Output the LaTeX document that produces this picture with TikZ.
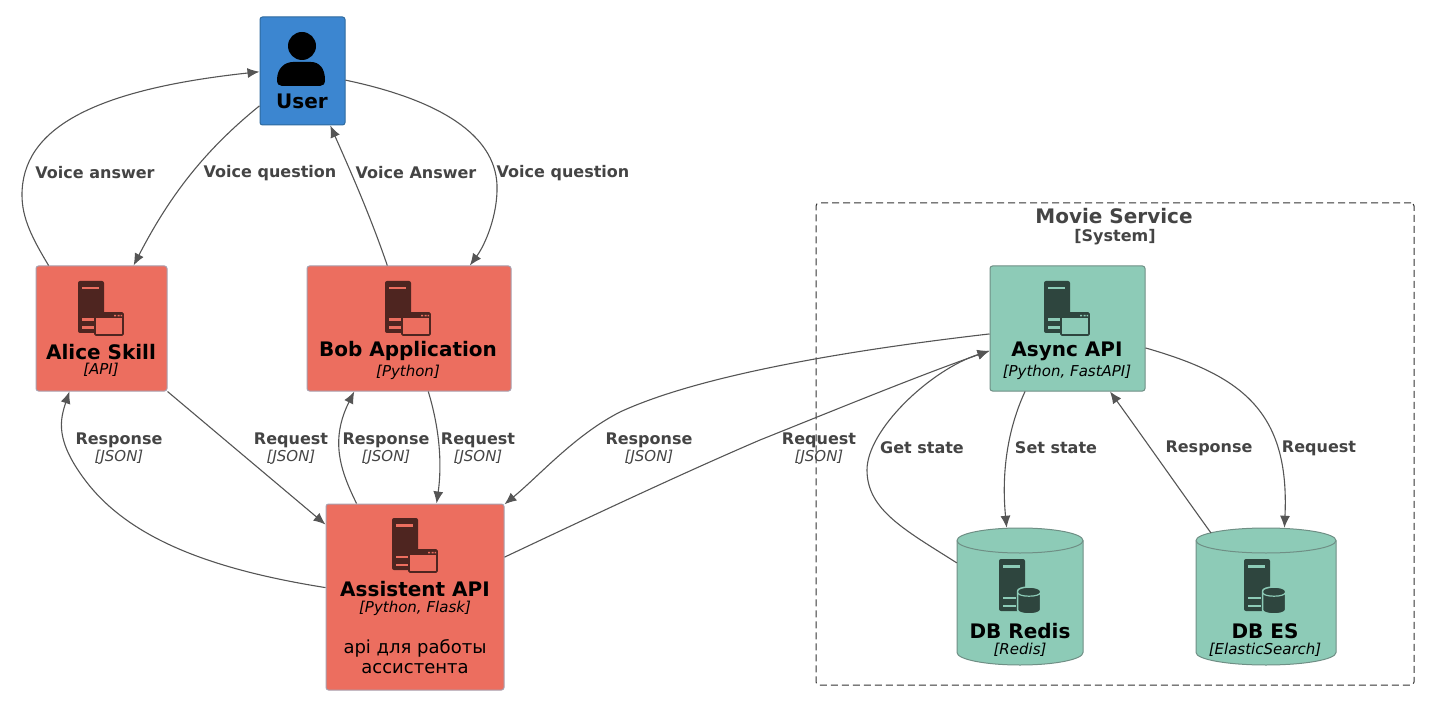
\documentclass[tikz,border=0pt]{standalone}
\usepackage{fontspec}
\setmainfont{DejaVu Sans}
\usetikzlibrary{arrows.meta}
\definecolor{userblue}{HTML}{3C86D0}
\definecolor{userline}{HTML}{2E6A9E}
\definecolor{appred}{HTML}{EC6E5F}
\definecolor{appline}{HTML}{A9A0AE}
\definecolor{appdark}{HTML}{4E2520}
\definecolor{svcgreen}{HTML}{8DCBB7}
\definecolor{svcline}{HTML}{6F8F85}
\definecolor{svcdark}{HTML}{2E453E}
\definecolor{flowgray}{HTML}{555555}
\definecolor{labelgray}{HTML}{444444}
\newcommand{\titlefont}{\fontsize{20}{24}\selectfont\bfseries\color{black}}
\newcommand{\techfont}{\fontsize{15}{17}\selectfont\mdseries\itshape}
\tikzset{
  flow/.style = {draw=flowgray, line width=1.1pt, -{Latex[length=12pt,width=10pt]}},
  appbox/.style = {draw=appline, fill=appred, rounded corners=2.5pt, line width=1pt, inner sep=0pt},
  svcbox/.style = {draw=svcline, fill=svcgreen, rounded corners=2.5pt, line width=1pt, inner sep=0pt},
  dbbox/.style = {inner sep=0pt, minimum height=137pt},
  boxtext/.style = {inner sep=0pt, align=center, text=black},
  flowlabel/.style = {inner sep=0pt, align=center, text=labelgray, font=\fontsize{16}{17}\selectfont\bfseries},
  pics/dbcan/.style = {code = {
    \draw[draw=svcline, fill=svcgreen, line width=1pt] (0,12.5) -- (0,124.5) arc[start angle=180, end angle=360, x radius=#1/2, y radius=-12.5] -- (#1,12.5)
      arc[start angle=0, end angle=180, x radius=#1/2, y radius=-12.5];
    \draw[draw=svcline, line width=1pt] (0,12.5) arc[start angle=180, end angle=360, x radius=#1/2, y radius=-12.5];
  }},
  pics/serverbody/.style 2 args = {code = {
    \fill[#1, rounded corners=2pt] (0,0) rectangle (26,52);
    \fill[#2] (4,6) rectangle (21,8.5);
    \fill[#2] (4,37.5) rectangle (17,40);
    \fill[#2] (4,45.5) rectangle (17,48);
  }},
  pics/serverwin/.style 2 args = {code = {
    \pic at (0,0) {serverbody={#1}{#2}};
    \draw[#1, fill=#2, line width=1.6pt, rounded corners=1pt] (17,32) rectangle (45,54);
    \fill[#1] (17,32) rectangle (45,37);
    \fill[#2] (36,33.8) rectangle (38,35.4) (39.5,33.8) rectangle (41.5,35.4) (42.5,33.8) rectangle (44,35.4);
  }},
  pics/serverdb/.style 2 args = {code = {
    \pic at (0,0) {serverbody={#1}{#2}};
    \draw[#2, fill=#1, line width=1.5pt] (18.5,32) -- (18.5,51) arc[start angle=180, end angle=360, x radius=11.5, y radius=-4] -- (41.5,32)
      arc[start angle=0, end angle=180, x radius=11.5, y radius=-4];
    \draw[#2, line width=1.2pt] (19,34) arc[start angle=180, end angle=360, x radius=11, y radius=-3.2];
  }}
}
\begin{document}
\begin{tikzpicture}[x=1pt, y=-1pt]
  \useasboundingbox (0,0) rectangle (1437,708);

  \node[draw=black!80, dash pattern=on 7pt off 4pt, rounded corners=3pt, line width=1pt, inner sep=0pt, minimum width=598pt, minimum height=482pt] (moviesvc) at (1115,444) {};
  \node[inner sep=0pt, align=center, text=labelgray, font=\fontsize{20}{22}\selectfont\bfseries] (moviename) at (1114,216) {Movie Service};
  \node[inner sep=0pt, text=labelgray, font=\fontsize{16}{17}\selectfont\bfseries] (movietech) at (1115,237) {[System]};

  \node[draw=userline, fill=userblue, rounded corners=2.5pt, line width=1pt, inner sep=0pt, minimum width=85pt, minimum height=108pt] (user) at (302.5,71) {};
  \node[appbox, minimum width=131pt, minimum height=125pt] (alice) at (101.5,328.5) {};
  \node[appbox, minimum width=204pt, minimum height=125pt] (bob) at (409,328.5) {};
  \node[appbox, minimum width=178pt, minimum height=186pt] (assistent) at (415,597) {};
  \node[svcbox, minimum width=155pt, minimum height=125pt] (async) at (1067.5,328.5) {};

  \pic at (957,528) {dbcan=126};
  \pic at (1196,528) {dbcan=140};
  \node[dbbox, minimum width=126pt] (redis) at (1020,596.5) {};
  \node[dbbox, minimum width=140pt] (es) at (1266,596.5) {};
  \coordinate (estop) at (1211,533);

  \fill (302,46) circle[radius=14];
  \fill (277,80) .. controls (277,68) and (285,62) .. (293,62) -- (311,62) .. controls (319,62) and (325,68) .. (325,80) .. controls (325,84) and (323,86) .. (320,86) -- (282,86) .. controls (279,86) and (277,84) .. (277,80) -- cycle;

  \pic at (78,281) {serverwin={appdark}{appred}};
  \pic at (385,281) {serverwin={appdark}{appred}};
  \pic at (392,518) {serverwin={appdark}{appred}};
  \pic at (1044,281) {serverwin={svcdark}{svcgreen}};
  \pic at (999,559) {serverdb={svcdark}{svcgreen}};
  \pic at (1244,559) {serverdb={svcdark}{svcgreen}};

  \node[boxtext] (usertxt) at (302,101) {\titlefont User};
  \node[boxtext] (alicetxt) at (101,360.5) {{\titlefont Alice Skill}\\[3.5pt]{\techfont [API]}};
  \node[boxtext] (bobtxt) at (408,360.5) {{\titlefont Bob Application}\\[3.5pt]{\techfont [Python]}};
  \node[boxtext] (assistenttxt) at (415,598.5) {{\titlefont Assistent API}\\[3.5pt]{\techfont [Python, Flask]}};
  \node[boxtext, font=\fontsize{18}{20}\selectfont] (assistentdesc) at (415,657) {api для работы\\ассистента};
  \node[boxtext] (asynctxt) at (1067,360.5) {{\titlefont Async API}\\[3.5pt]{\techfont [Python, FastAPI]}};
  \node[boxtext] (redistxt) at (1020,640) {{\titlefont DB Redis}\\[3.5pt]{\techfont [Redis]}};
  \node[boxtext] (estxt) at (1265,640) {{\titlefont DB ES}\\[3.5pt]{\techfont [ElasticSearch]}};

  \draw[flow] (alice.130.6) .. controls (32,238) and (22,218) .. (22,195) .. controls (22,130) and (90,90) .. (user.181);
  \draw[flow] (user.219.5) .. controls (205,150) and (170,195) .. (alice.63.3);
  \draw[flow] (bob.109.4) .. controls (370,215) and (350,170) .. (user.297.8);
  \draw[flow] (user.348) .. controls (440,100) and (495,135) .. (497,185) .. controls (498,215) and (485,245) .. (bob.46.6);
  \draw[flow] (assistent.174.9) .. controls (215,570) and (130,540) .. (85,480) .. controls (55,440) and (60,420) .. (alice.243.3);
  \draw[flow] (alice.south east) -- (assistent.141.4);
  \draw[flow] (assistent.122.8) .. controls (340,470) and (330,440) .. (bob.229.2);
  \draw[flow] (bob.287.7) .. controls (440,430) and (442,465) .. (assistent.77.9);
  \draw[flow] (async.184.8) .. controls (850,350) and (700,375) .. (620,412) .. controls (575,435) and (540,475) .. (assistent.46.9);
  \draw[flow] (assistent.24.7) .. controls (600,512) and (690,470) .. (760,440) .. controls (830,412) and (920,375) .. (async.196.2);
  \draw[flow] (redis.152) .. controls (905,530) and (867,510) .. (867,470) .. controls (867,430) and (930,370) .. (async.196.2);
  \draw[flow] (async.236.4) .. controls (1005,435) and (1002,480) .. (redis.101.6);
  \draw[flow] (estop) .. controls (1180,490) and (1145,440) .. (async.304.8);
  \draw[flow] (async.346.6) .. controls (1240,375) and (1290,410) .. (es.75.2);

  \node[flowlabel] (voiceanswera) at (95,173) {Voice answer};
  \node[flowlabel] (voicequesta) at (270,173) {Voice question};
  \node[flowlabel] (voiceanswerb) at (416,173) {Voice Answer};
  \node[flowlabel] (voicequestb) at (563,173) {Voice question};
  \node[flowlabel] (respalice) at (119,449) {Response\\{\techfont [JSON]}};
  \node[flowlabel] (reqalice) at (291,449) {Request\\{\techfont [JSON]}};
  \node[flowlabel] (respbob) at (386,449) {Response\\{\techfont [JSON]}};
  \node[flowlabel] (reqbob) at (478,449) {Request\\{\techfont [JSON]}};
  \node[flowlabel] (respasync) at (649,449) {Response\\{\techfont [JSON]}};
  \node[flowlabel] (reqasync) at (819,449) {Request\\{\techfont [JSON]}};
  \node[flowlabel] (getstate) at (922,448) {Get state};
  \node[flowlabel] (setstate) at (1056,448) {Set state};
  \node[flowlabel] (respes) at (1209,448) {Response};
  \node[flowlabel] (reqes) at (1319,448) {Request};
\end{tikzpicture}
\end{document}
